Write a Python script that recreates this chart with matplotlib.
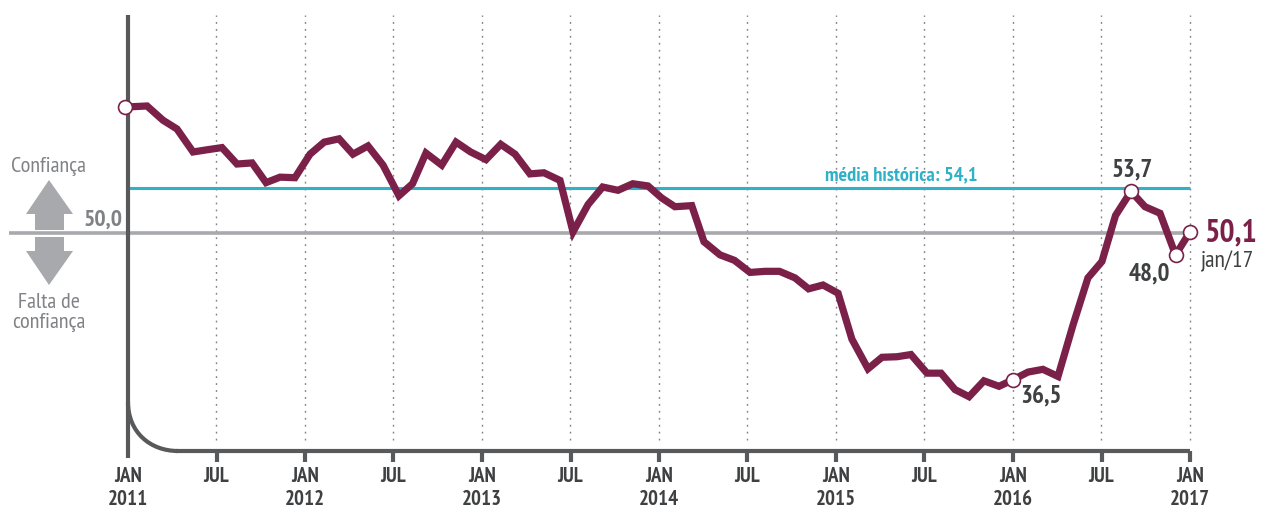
"""Indice de confianca, jan/2011 a jan/2017."""

import matplotlib

matplotlib.use("Agg")
import matplotlib.pyplot as plt
from matplotlib.patches import PathPatch, Polygon
from matplotlib.path import Path
from matplotlib.transforms import Affine2D

# months since jan/2011, as placed in the picture
months = [
    -0.20, 1.29, 2.37, 3.32, 4.41, 5.36, 6.37, 7.39, 8.41, 9.36, 10.31, 11.32,
    12.34, 13.3, 14.31, 15.25, 16.27, 17.29, 18.37, 19.29, 20.20, 21.27, 22.24,
    23.23, 24.27, 25.27, 26.24, 27.25, 28.20, 29.29, 30.17, 31.19, 32.18, 33.22,
    34.22, 35.25, 36.18, 37.08, 38.22, 39.05, 40.14, 41.12, 42.17, 43.19, 44.17,
    45.22, 46.14, 47.12, 48.14, 49.08, 50.17, 51.12, 52.14, 53.08, 54.17, 55.12,
    56.07, 57.02, 58.03, 59.05, 60.0, 61.02, 62.03, 63.05, 64.07, 65.08, 66.03,
    66.95, 68.0, 68.95, 69.97, 71.02, 72.0,
]
confidence = [
    61.5, 61.6, 60.3, 59.5, 57.4, 57.6, 57.8, 56.3, 56.4, 54.6, 55.1, 55.05,
    57.2, 58.3, 58.6, 57.2, 57.95, 56.2, 53.4, 54.5, 57.3, 56.2, 58.3,
    57.4, 56.7, 58.1, 57.2, 55.4, 55.5, 54.8, 50.1, 52.6, 54.2, 53.9,
    54.5, 54.3, 53.2, 52.4, 52.5, 49.2, 48.0, 47.5, 46.4, 46.5, 46.5,
    45.9, 44.9, 45.25, 44.5, 40.3, 37.6, 38.65, 38.7, 38.9, 37.2, 37.2,
    35.7, 35.05, 36.5, 36.0, 36.6, 37.3, 37.55, 36.9, 41.6, 45.9, 47.4,
    51.6, 53.8, 52.4, 51.8, 48.0, 50.1,
]
highlighted = [0, 60, 68, 71, 72]

tick_months = [0, 6, 12, 18, 24, 30, 36, 42, 48, 54, 60, 66, 72]
tick_labels = [
    "JAN\n2011", "JUL", "JAN\n2012", "JUL", "JAN\n2013", "JUL", "JAN\n2014",
    "JUL", "JAN\n2015", "JUL", "JAN\n2016", "JUL", "JAN\n2017",
]

neutral_level = 50.0
historic_mean = 54.1

PURPLE = "#7b2149"
TEAL = "#2fb2c8"
GREY = "#a7a9ac"
AXIS_GREY = "#58595b"
TEXT_GREY = "#808285"
DARK = "#3f4042"

W, H = 1262, 508
PX_MONTH = 14.75
PX_UNIT = 10.95
X0, Y50 = 128, 233


def val(py):
    return neutral_level + (Y50 - py) / PX_UNIT


def mon(px_x):
    return (px_x - X0) / PX_MONTH


plt.rcParams["font.family"] = ["PT Sans Narrow", "Archivo Narrow", "Open Sans", "DejaVu Sans"]

fig = plt.figure(figsize=(W / 100, H / 100), dpi=100)
ax = fig.add_axes([0, 0, 1, 1])
ax.patch.set_alpha(0)
ax.set_xlim(mon(0), mon(W))
ax.set_ylim(val(H), val(0))

# text and annotations go in picture pixels
px = Affine2D().scale(1, -1).translate(0, H)

ax.spines[["top", "right"]].set_visible(False)
base = val(451)
ax.spines["bottom"].set_position(("data", base))
ax.spines["bottom"].set_bounds(mon(176), 72)
ax.spines["left"].set_position(("data", 0))
ax.spines["left"].set_bounds(val(458), val(15))
for side in ("bottom", "left"):
    ax.spines[side].set_color(AXIS_GREY)
    ax.spines[side].set_linewidth(3)
    ax.spines[side].set_capstyle("butt")

ax.set_yticks([])
ax.set_xticks(tick_months, tick_labels, fontsize=15, fontweight="bold", color=DARK,
              linespacing=1.24, va="top")
ax.tick_params(axis="x", length=8, width=3, color=AXIS_GREY, pad=3.5, direction="out")
ax.xaxis.get_major_ticks()[0].tick1line.set_visible(False)

# rounded corner of the axis
corner = Path(
    [(0, val(402)), (0, val(432)), (mon(150), val(451)), (mon(178), val(451))],
    [Path.MOVETO, Path.CURVE4, Path.CURVE4, Path.CURVE4],
)
ax.add_patch(PathPatch(corner, fc="none", ec=AXIS_GREY, lw=3, capstyle="butt", zorder=3))

# dotted verticals
for m in tick_months[1:]:
    ax.plot([m, m], [val(440), val(15)], color="#808285", lw=1.0,
            ls=(0, (1.3, 3.7)), zorder=1)

ax.plot([mon(9), 72], [neutral_level, neutral_level], color=GREY, lw=2.6,
        solid_capstyle="butt", zorder=2)
ax.plot([0, 72], [historic_mean, historic_mean], color=TEAL, lw=2.2,
        solid_capstyle="butt", zorder=2)

ax.plot(months, confidence, color=PURPLE, lw=5.2, solid_joinstyle="miter", zorder=4)
ax.plot([months[i] for i in highlighted], [confidence[i] for i in highlighted],
        ls="none", marker="o", ms=10, mfc="white", mec=PURPLE, mew=1.2, zorder=5)

# confidence arrows
up_arrow = [(49, 180), (73, 214), (64, 214), (64, 230), (35, 230), (35, 214), (26, 214)]
down_arrow = [(49, 285), (73, 251), (64, 251), (64, 237), (35, 237), (35, 251), (26, 251)]
for pts in (up_arrow, down_arrow):
    ax.add_patch(Polygon(pts, closed=True, fc=GREY, ec="none", transform=px, zorder=3))


def label(x, y, s, size, color, weight="normal", ha="center"):
    ax.text(x, y, s, transform=px, fontsize=size, color=color, fontweight=weight,
            ha=ha, va="center", zorder=6)


label(49, 166, "Confiança", 16, TEXT_GREY)
label(49, 302, "Falta de", 16, TEXT_GREY)
label(49, 323, "confiança", 16, TEXT_GREY)
label(123, 220, "50,0", 17, TEXT_GREY, "bold", "right")
label(901, 175, "média histórica: 54,1", 14.7, TEAL, "bold")
label(1132, 170, "53,7", 18, DARK, "bold")
label(1149, 274, "48,0", 18, DARK, "bold")
label(1041, 396, "36,5", 18, DARK, "bold")
label(1204, 233, "50,1", 23, PURPLE, "bold", "left")
label(1201, 261, "jan/17", 17, DARK, "normal", "left")

fig.savefig("out.png", dpi=100, facecolor="white")
